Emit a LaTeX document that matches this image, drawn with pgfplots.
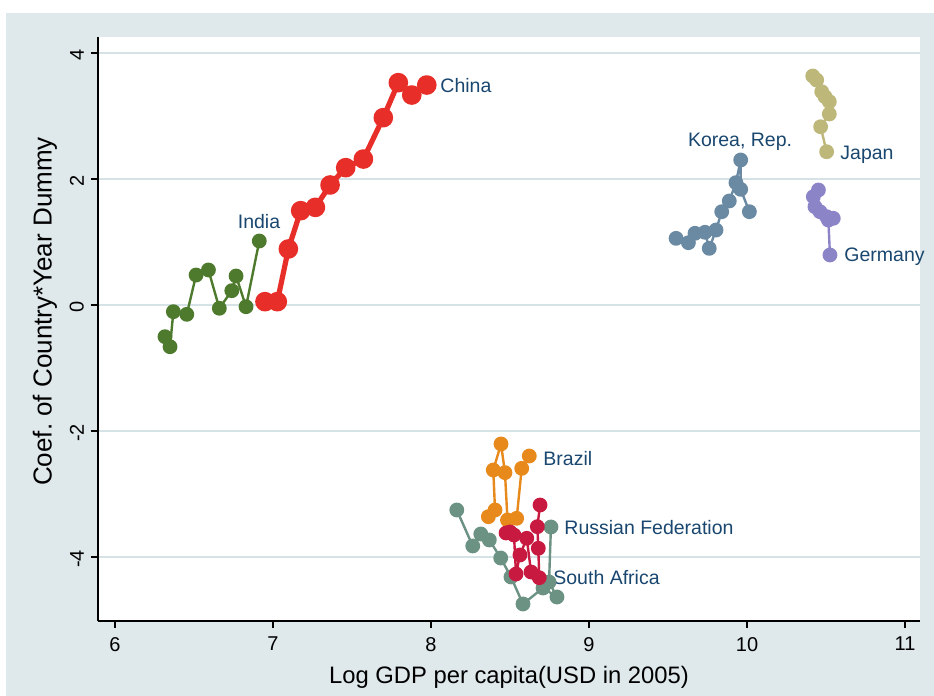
\documentclass[border=0pt]{standalone}
\usepackage{fontspec}
\setmainfont{Liberation Sans}
\usepackage{pgfplots}
\pgfplotsset{compat=1.18}
\definecolor{bgc}{HTML}{DFE8EB}
\definecolor{gridc}{HTML}{D6E3E6}
\definecolor{lab}{HTML}{1A476F}
\definecolor{india}{HTML}{4E7A2E}
\definecolor{china}{HTML}{E82E28}
\definecolor{korea}{HTML}{6A8AA3}
\definecolor{japan}{HTML}{BDB87A}
\definecolor{germany}{HTML}{8B85C8}
\definecolor{brazil}{HTML}{E8891C}
\definecolor{russia}{HTML}{C81A40}
\definecolor{safrica}{HTML}{6C9284}
\frenchspacing
\begin{document}
\begin{tikzpicture}
\useasboundingbox (-49pt,-37.5pt) rectangle (418pt,310.5pt);
\fill[white] (-49pt,-37.5pt) rectangle (418pt,310.5pt);
\fill[bgc] (-46pt,-37.5pt) rectangle (418pt,304pt);
\begin{axis}[
  scale only axis, width=411pt, height=292pt,
  xmin=5.892, xmax=11.095, ymin=-5.016, ymax=4.254,
  axis background/.style={fill=white},
  axis x line*=bottom, axis y line*=left,
  axis line style={black, line width=0.7pt},
  xtick={6,7,8,9,10,11}, ytick={-4,-2,0,2,4},
  tick align=outside, major tick length=3.5pt,
  tick style={black, line width=0.7pt},
  ymajorgrids, grid style={gridc, line width=1.2pt},
  /pgf/number format/assume math mode=true,
  ticklabel style={font=\fontsize{10}{12}\selectfont},
  xticklabel style={yshift=-1pt},
  yticklabel style={rotate=90, anchor=south, xshift=-1pt},
  xlabel={Log GDP per capita(USD in 2005)},
  ylabel={Coef. of Country*Year Dummy},
  xlabel style={font=\fontsize{11.9}{13}\selectfont, at={(axis description cs:0.5,-0.0959)}, anchor=center},
  ylabel style={font=\fontsize{13}{14}\selectfont, at={(axis description cs:-0.0645,0.53)}, anchor=center},
  clip=false,
  every axis plot/.append style={mark=*, line join=round},
]
% India
\addplot[india, line width=1.2pt, mark size=3.1pt] coordinates {
(6.316,-0.503) (6.348,-0.662) (6.369,-0.106) (6.454,-0.148) (6.513,0.476)
(6.591,0.556) (6.660,-0.052) (6.739,0.227) (6.766,0.460) (6.829,-0.027) (6.913,1.016)};
% China
\addplot[china, line width=2.6pt, mark size=3.6pt] coordinates {
(6.949,0.053) (7.027,0.053) (7.097,0.889) (7.175,1.497) (7.268,1.550) (7.361,1.905)
(7.460,2.180) (7.572,2.317) (7.698,2.974) (7.793,3.529) (7.878,3.333) (7.973,3.492)};
% Korea
\addplot[korea, line width=1.2pt, mark size=3.1pt] coordinates {
(9.551,1.058) (9.629,0.989) (9.671,1.138) (9.734,1.154) (9.761,0.899) (9.804,1.190)
(9.840,1.481) (9.888,1.651) (9.930,1.942) (9.960,2.302) (9.960,1.836) (10.015,1.481)};
% Japan
\addplot[japan, line width=1.2pt, mark size=3.1pt] coordinates {
(10.416,3.635) (10.441,3.571) (10.473,3.386) (10.494,3.306) (10.521,3.227)
(10.521,3.032) (10.466,2.830) (10.504,2.433)};
% Germany
\addplot[germany, line width=1.2pt, mark size=3.1pt] coordinates {
(10.452,1.825) (10.420,1.719) (10.430,1.560) (10.462,1.481) (10.504,1.402)
(10.546,1.376) (10.515,1.349) (10.525,0.794)};
% South Africa
\addplot[safrica, line width=1.2pt, mark size=3.1pt] coordinates {
(8.163,-3.254) (8.264,-3.825) (8.315,-3.635) (8.369,-3.730) (8.441,-4.016)
(8.506,-4.317) (8.582,-4.746) (8.709,-4.492) (8.797,-4.635) (8.747,-4.397) (8.759,-3.524)};
% Brazil
\addplot[brazil, line width=1.2pt, mark size=3.1pt] coordinates {
(8.363,-3.360) (8.405,-3.254) (8.394,-2.619) (8.443,-2.206) (8.468,-2.661)
(8.484,-3.413) (8.542,-3.386) (8.574,-2.593) (8.622,-2.397)};
% Russia
\addplot[russia, line width=1.2pt, mark size=3.1pt] coordinates {
(8.475,-3.619) (8.500,-3.603) (8.525,-3.651) (8.538,-4.270) (8.563,-3.968)
(8.606,-3.703) (8.633,-4.238) (8.685,-4.329) (8.679,-3.862) (8.673,-3.519) (8.690,-3.175)};
% labels
\begin{scope}[every node/.style={text=lab, font=\fontsize{9.75}{11}\selectfont, inner sep=0pt}]
\node[anchor=west] at (axis cs:8.057,3.476) {China};
\node at (axis cs:6.911,1.317) {India};
\node at (axis cs:9.956,2.587) {Korea, Rep.};
\node[anchor=west] at (axis cs:10.589,2.381) {Japan};
\node[anchor=west] at (axis cs:10.614,0.762) {Germany};
\node[anchor=west] at (axis cs:8.709,-2.444) {Brazil};
\node[anchor=west] at (axis cs:8.842,-3.540) {Russian Federation};
\node[anchor=west] at (axis cs:8.772,-4.333) {South Africa};
\end{scope}
\end{axis}
\end{tikzpicture}
\end{document}
